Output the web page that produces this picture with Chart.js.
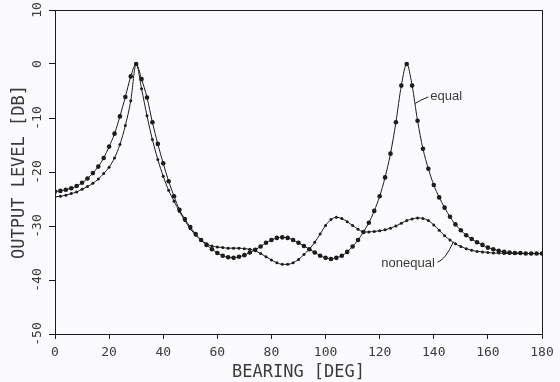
<!DOCTYPE html>
<html><head><meta charset="utf-8">
<script src="https://cdn.jsdelivr.net/npm/chart.js@4/dist/chart.umd.min.js"></script>
<style>html,body{margin:0;padding:0;background:#fbfbfd;}#wrap{width:560px;height:382px;}</style>
</head><body><div id="wrap"><canvas id="c" width="560" height="382"></canvas></div>
<script>
const bearing = [0,2,4,6,8,10,12,14,16,18,20,22,24,26,28,30,32,34,36,38,40,42,44,46,48,50,52,54,56,58,60,62,64,66,68,70,72,74,76,78,80,82,84,86,88,90,92,94,96,98,100,102,104,106,108,110,112,114,116,118,120,122,124,126,128,130,132,134,136,138,140,142,144,146,148,150,152,154,156,158,160,162,164,166,168,170,172,174,176,178,180];
const equalDb = [-23.6,-23.5,-23.3,-23.0,-22.6,-22.0,-21.2,-20.2,-19.0,-17.4,-15.3,-12.9,-9.7,-6.1,-2.3,0,-2.8,-6.2,-10.8,-14.8,-18.4,-21.7,-24.5,-27.0,-28.7,-30.2,-31.5,-32.6,-33.5,-34.3,-35.0,-35.5,-35.8,-35.9,-35.7,-35.4,-34.9,-34.4,-33.8,-33.1,-32.6,-32.2,-32.1,-32.2,-32.6,-33.1,-33.7,-34.3,-34.9,-35.5,-35.9,-36.1,-35.9,-35.5,-34.8,-33.8,-32.6,-31.1,-29.4,-27.2,-24.5,-21.0,-16.6,-10.8,-4.0,0,-4.0,-10.5,-15.7,-19.4,-22.4,-24.7,-26.6,-28.3,-29.7,-30.8,-31.7,-32.4,-33.0,-33.5,-34.0,-34.3,-34.6,-34.8,-34.9,-35.0,-35.0,-35.1,-35.1,-35.1,-35.1];
const nonequalDb = [-24.6,-24.5,-24.3,-24.0,-23.7,-23.2,-22.7,-22.1,-21.3,-20.3,-19.1,-17.4,-14.9,-11.4,-6.8,0,-4.6,-9.6,-14.0,-17.7,-20.8,-23.4,-25.4,-27.3,-29.0,-30.5,-31.7,-32.6,-33.3,-33.7,-33.9,-34.0,-34.1,-34.1,-34.1,-34.2,-34.3,-34.6,-35.1,-35.7,-36.3,-36.8,-37.1,-37.1,-36.8,-36.2,-35.3,-34.3,-33.0,-31.5,-29.9,-28.8,-28.4,-28.6,-29.2,-29.9,-30.6,-31.1,-31.1,-31.0,-30.9,-30.7,-30.4,-30.0,-29.5,-29.0,-28.7,-28.5,-28.6,-29.0,-29.8,-30.8,-31.8,-32.6,-33.3,-33.8,-34.2,-34.5,-34.7,-34.8,-34.9,-35.0,-35.0,-35.1,-35.1,-35.1,-35.1,-35.1,-35.1,-35.1,-35.1];
const xTickValues = [0,20,40,60,80,100,120,140,160,180];
const yTickValues = [-50,-40,-30,-20,-10,0,10];
const xTitle = 'BEARING [DEG]';
const yTitle = 'OUTPUT LEVEL [DB]';
const seriesLabels = ['equal','nonequal'];
// annotation anchors in data units: [textX, textY], leader path points
const equalNote = {text:[138.7,-6.6], path:[[133.1,-7.3],[134.9,-6.7],[138.0,-6.1]]};
const nonequalNote = {text:[120.6,-37.5], path:[[141.4,-36.7],[144.2,-36.3],[147.3,-32.9]]};

const ink = '#1c1c1c';
const textInk = '#3a3a3a';
const mono = 'DejaVu Sans Mono';

const toPts = (ys) => bearing.map((b,i)=>({x:b,y:ys[i]}));

const frameAndNotes = {
  id:'frameAndNotes',
  afterDatasetsDraw(chart){
    const {ctx, chartArea:a, scales:{x,y}} = chart;
    ctx.save();
    ctx.strokeStyle = ink; ctx.lineWidth = 1;
    ctx.strokeRect(Math.round(a.left)+0.5, Math.round(a.top)+0.5, Math.round(a.right-a.left), Math.round(a.bottom-a.top));
    const P = p => [x.getPixelForValue(p[0]), y.getPixelForValue(p[1])];
    ctx.font = '13px "Liberation Sans", Arial, sans-serif';
    ctx.fillStyle = textInk;
    ctx.textBaseline = 'alphabetic';
    [[equalNote, seriesLabels[0]],[nonequalNote, seriesLabels[1]]].forEach(([n,label])=>{
      const pts = n.path.map(P);
      ctx.beginPath();
      ctx.moveTo(pts[0][0], pts[0][1]);
      ctx.quadraticCurveTo(pts[1][0], pts[1][1], pts[2][0], pts[2][1]);
      ctx.stroke();
      const t = P(n.text);
      ctx.fillText(label, t[0], t[1]);
    });
    ctx.restore();
  }
};

new Chart(document.getElementById('c'), {
  type:'scatter',
  data:{datasets:[
    {label:seriesLabels[0], data:toPts(equalDb), showLine:true, borderColor:ink, borderWidth:1, backgroundColor:ink, pointRadius:2.3, pointBorderWidth:0, cubicInterpolationMode:'monotone'},
    {label:seriesLabels[1], data:toPts(nonequalDb), showLine:true, borderColor:ink, borderWidth:1, backgroundColor:ink, pointRadius:1.5, pointBorderWidth:0, cubicInterpolationMode:'monotone'}
  ]},
  options:{
    responsive:false, animation:false, devicePixelRatio:1,
    layout:{padding:{top:10,right:18,left:0,bottom:0}},
    plugins:{legend:{display:false}, tooltip:{enabled:false}},
    scales:{
      x:{type:'linear', min:0, max:180,
        afterBuildTicks:s=>{s.ticks = xTickValues.map(v=>({value:v}));},
        afterFit:s=>{s.height=48;},
        grid:{display:true, drawOnChartArea:false, drawTicks:true, tickLength:5, color:ink},
        border:{display:true, color:ink, width:1},
        ticks:{font:{family:mono,size:13}, color:textInk, padding:6, maxRotation:0, autoSkip:false},
        title:{display:true, text:xTitle, font:{family:mono,size:17}, color:textInk, padding:{top:0,bottom:-1}}
      },
      y:{type:'linear', min:-50, max:10,
        afterBuildTicks:s=>{s.ticks = yTickValues.map(v=>({value:v}));},
        afterFit:s=>{s.width=55;},
        grid:{display:true, drawOnChartArea:false, drawTicks:true, tickLength:6, color:ink},
        border:{display:true, color:ink, width:1},
        ticks:{font:{family:mono,size:13}, color:textInk, padding:0, minRotation:90, maxRotation:90, crossAlign:'center', autoSkip:false},
        title:{display:true, text:yTitle, font:{family:mono,size:17}, color:textInk, padding:{top:9,bottom:0}}
      }
    }
  },
  plugins:[frameAndNotes]
});
</script></body></html>
